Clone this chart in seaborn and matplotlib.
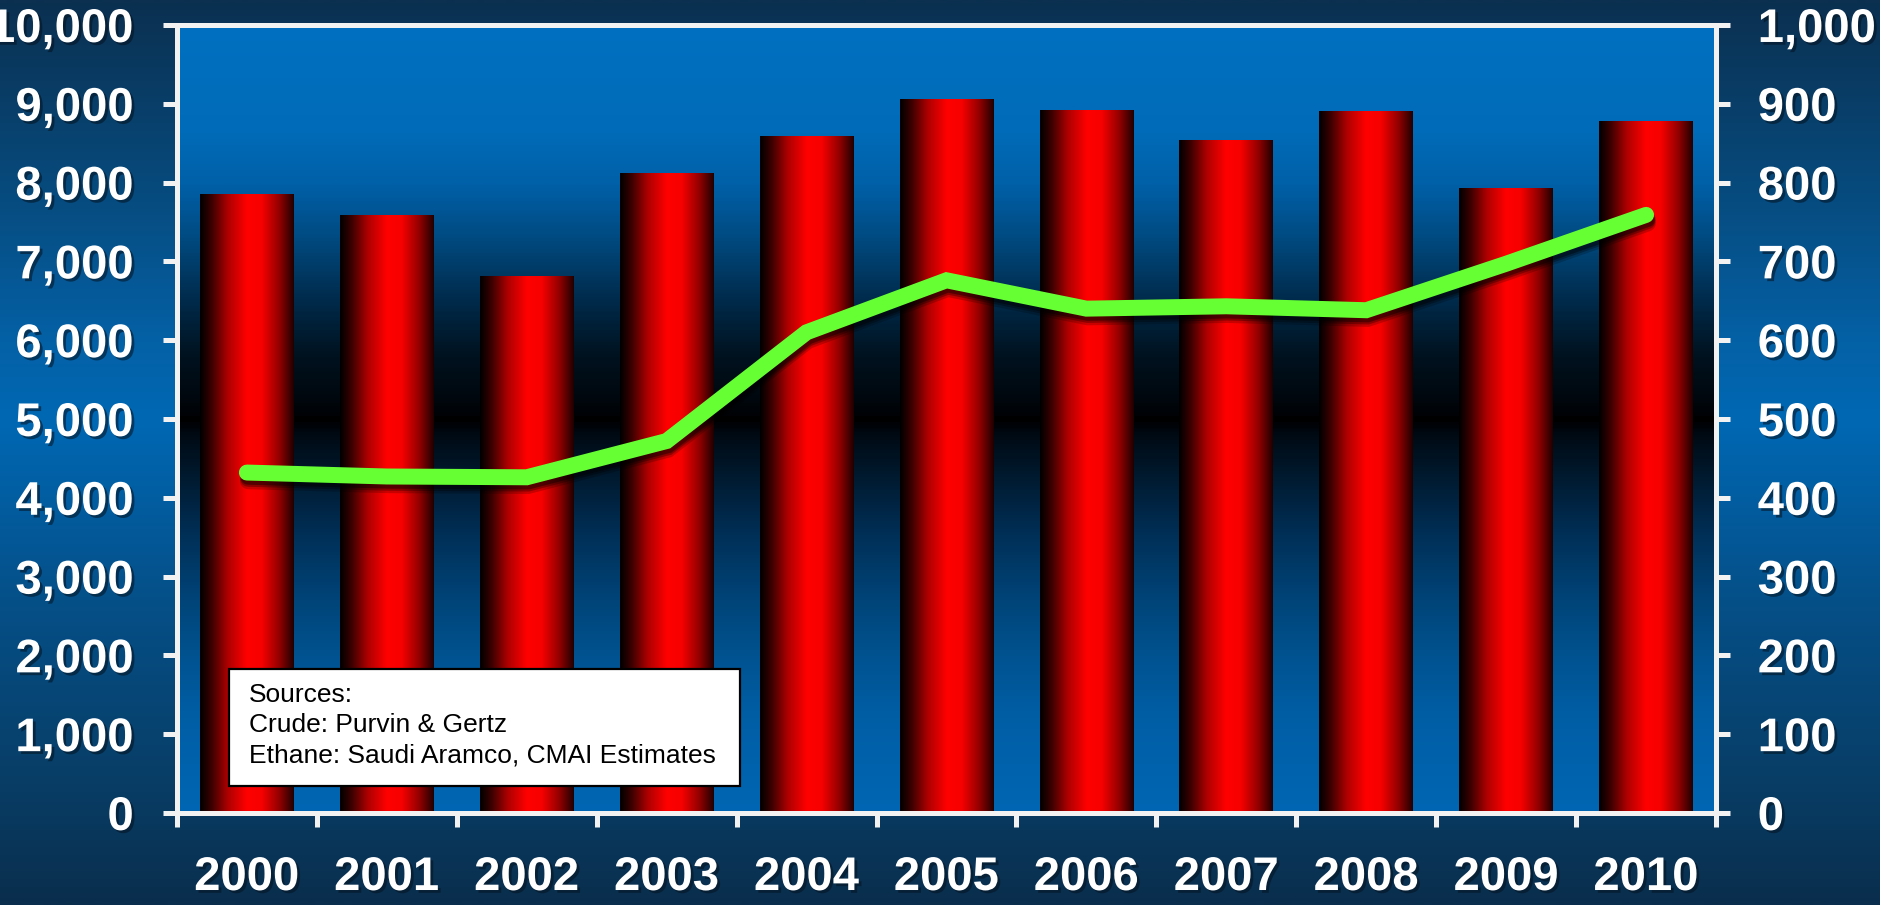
import numpy as np
import matplotlib
matplotlib.use("Agg")
import matplotlib.pyplot as plt
import matplotlib.patheffects as pe
from matplotlib.colors import LinearSegmentedColormap
from matplotlib.patches import Rectangle
import seaborn as sns

# Annual values: crude (left axis) and ethane (right axis)
years = ["2000", "2001", "2002", "2003", "2004", "2005",
         "2006", "2007", "2008", "2009", "2010"]
crude = [7850, 7580, 6810, 8110, 8580, 9060, 8910, 8530, 8900, 7930, 8780]
ethane = [432, 427, 426, 472, 610, 676, 640, 643, 638, 697, 759]
left_ticks = [0, 1000, 2000, 3000, 4000, 5000, 6000, 7000, 8000, 9000, 10000]
right_ticks = [0, 100, 200, 300, 400, 500, 600, 700, 800, 900, 1000]
source_lines = ["Sources:", "Crude: Purvin & Gertz",
                "Ethane: Saudi Aramco, CMAI Estimates"]

sns.set_theme(style="white")
plt.rcParams["font.family"] = ["Liberation Sans", "DejaVu Sans"]

fig = plt.figure(figsize=(18.8, 9.05), dpi=100)

# Figure background: dark navy at top and bottom, bright blue in the middle
bg = fig.add_axes([0, 0, 1, 1], zorder=-10)
fig_cmap = LinearSegmentedColormap.from_list("fig_bg", [
    (0.00, "#0a2e4d"), (0.14, "#083e67"), (0.34, "#055089"),
    (0.536, "#0068b4"), (0.62, "#0461a6"), (0.80, "#07497b"),
    (1.00, "#0b3050")])
bg.imshow(np.linspace(0, 1, 600).reshape(-1, 1), cmap=fig_cmap, aspect="auto",
          origin="lower", extent=[0, 1, 0, 1], interpolation="bilinear")
bg.set_axis_off()

ax = fig.add_axes([0.0941, 0.1017, 0.8187, 0.8707])
ax.set_facecolor("none")

# Plot-area background: blue at the edges, black band at mid-height
area_cmap = LinearSegmentedColormap.from_list("area_bg", [
    (0.00, "#0066b3"), (0.12, "#005ea5"), (0.20, "#00528f"),
    (0.27, "#004478"), (0.35, "#003058"), (0.425, "#001a30"),
    (0.48, "#000a14"), (0.494, "#000306"), (0.500, "#000000"),
    (0.506, "#000306"), (0.53, "#00080f"), (0.58, "#00121f"),
    (0.65, "#002a4a"), (0.73, "#004a80"), (0.80, "#0060a8"),
    (0.87, "#006cb9"), (1.00, "#0070c0")])
ax.imshow(np.linspace(0, 1, 1000).reshape(-1, 1), cmap=area_cmap, aspect="auto",
          origin="lower", extent=[0, 1, 0, 1], transform=ax.transAxes,
          zorder=0, interpolation="bilinear")

# Bars, then a cylinder-like horizontal shading inside each bar
sns.barplot(x=years, y=crude, ax=ax, color="#ff0000", saturation=1,
            width=0.67, zorder=2)
bar_cmap = LinearSegmentedColormap.from_list("bar_shade", [
    (0.00, "#000000"), (0.12, "#3a0000"), (0.30, "#b00000"),
    (0.50, "#ff0000"), (0.66, "#f60000"), (0.85, "#900000"),
    (1.00, "#200000")])
shade = np.linspace(0, 1, 256).reshape(1, -1)
for bar in list(ax.patches):
    x0, y0 = bar.get_x(), bar.get_y()
    w, h = bar.get_width(), bar.get_height()
    ax.imshow(shade, cmap=bar_cmap, aspect="auto",
              extent=[x0, x0 + w, y0, y0 + h], zorder=2.5,
              interpolation="bilinear")
    bar.set_facecolor("none")
    bar.set_edgecolor("none")

# Ethane line on the right axis, with a soft shadow beneath it
ax2 = ax.twinx()
line_fx = [
    pe.SimpleLineShadow(offset=(1, -6), shadow_color="black", alpha=0.2, linewidth=12),
    pe.SimpleLineShadow(offset=(1, -4.5), shadow_color="black", alpha=0.3, linewidth=11.5),
    pe.SimpleLineShadow(offset=(1, -3), shadow_color="black", alpha=0.4, linewidth=11.5),
    pe.Normal(),
]
sns.lineplot(x=np.arange(len(years)), y=ethane, ax=ax2, color="#66ff33",
             linewidth=11.5, solid_capstyle="round", solid_joinstyle="miter",
             path_effects=line_fx, zorder=3)

ax.set_xlim(-0.5, len(years) - 0.5)
ax.set_ylim(0, 10000)
ax2.set_ylim(0, 1000)
ax.set_xlabel("")
ax.set_ylabel("")
ax2.set_xlabel("")
ax2.set_ylabel("")

axis_col = "#f2f2f2"
for a in (ax, ax2):
    for sp in a.spines.values():
        sp.set_visible(True)
        sp.set_color(axis_col)
        sp.set_linewidth(3.6)
        sp.set_zorder(4)

ax.set_yticks(left_ticks, labels=[f"{v:,}" for v in left_ticks])
ax2.set_yticks(right_ticks, labels=[f"{v:,}" for v in right_ticks])
ax.set_xticks(np.arange(-0.5, len(years)), labels=[])
ax.set_xticks(np.arange(len(years)), labels=years, minor=True)

ax.tick_params(axis="y", which="both", direction="out", length=10, width=3.6,
               color=axis_col, labelcolor="white", labelsize=34, pad=21,
               left=True, right=False)
ax2.tick_params(axis="y", which="both", direction="out", length=10, width=3.6,
                color=axis_col, labelcolor="white", labelsize=34, pad=20,
                right=True, left=False)
ax.tick_params(axis="x", which="major", direction="out", length=10, width=3.6,
               color=axis_col, bottom=True)
ax.tick_params(axis="x", which="minor", length=0, labelcolor="white",
               labelsize=34, pad=31, bottom=True)

label_fx = [pe.withSimplePatchShadow(offset=(2, -2), shadow_rgbFace="#04121f", alpha=0.55)]
for lbl in (ax.get_yticklabels() + ax2.get_yticklabels()
            + ax.get_xticklabels(minor=True)):
    lbl.set_fontweight("bold")
    lbl.set_path_effects(label_fx)

# Sources box
fig.add_artist(Rectangle((0.1218, 0.1315), 0.2718, 0.1293,
                         transform=fig.transFigure, facecolor="white",
                         edgecolor="black", linewidth=1.6, zorder=5))
fig.text(0.1324, 0.2453, "\n".join(source_lines), ha="left", va="top",
         fontsize=19, color="black", linespacing=1.33, zorder=6)

fig.savefig("out.png", dpi=100)
